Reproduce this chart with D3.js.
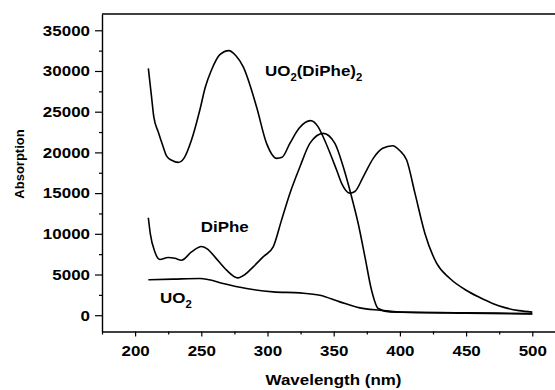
<!DOCTYPE html>
<html>
<head>
<meta charset="utf-8">
<script src="https://cdn.jsdelivr.net/npm/d3@7"></script>
<style>
  body { margin: 0; background: #fff; }
  text { font-family: "Liberation Sans", Arial, sans-serif; font-weight: bold; fill: #000; }
</style>
</head>
<body>
<script>
// wavelength (nm) / absorption
const complexW = [210, 212.4, 214.1, 217.5, 221.2, 223.7, 228, 232.5, 237, 242.6, 248.9, 253, 257.7, 264, 270.8, 276, 281.6, 291.7, 299.3, 306.9, 311, 316.9, 324, 332.5, 338, 342, 352.2, 356, 362, 366, 372.3, 380, 387, 394.5, 400, 405.1, 411.4, 418.9, 427.8, 437.8, 450, 460, 470, 480, 490, 500];
const complexA = [30330, 26840, 24380, 22500, 20690, 19580, 19000, 18770, 19300, 21510, 25200, 28000, 30120, 32000, 32500, 31900, 30530, 25610, 21110, 19270, 19400, 21110, 23000, 23900, 23200, 21920, 17830, 16200, 15000, 15200, 17000, 19300, 20500, 20820, 20200, 19060, 14960, 10050, 6360, 4510, 3070, 2200, 1450, 900, 560, 380];

const diPheW = [210, 211.5, 214.9, 218.7, 224.9, 230, 235, 242.6, 250.2, 255, 260.2, 269.1, 277.5, 283, 289.2, 296.7, 304.3, 310.6, 316.9, 324.5, 332, 342.1, 350.9, 357.2, 363.5, 368.5, 373.6, 378.6, 383.6, 392.5, 450, 500];
const diPheA = [11970, 10000, 7790, 6850, 7090, 7000, 6760, 7780, 8450, 8100, 7170, 5530, 4590, 5000, 5940, 7170, 8400, 11680, 14960, 18230, 21110, 22340, 21110, 18230, 14550, 11270, 7170, 3070, 820, 410, 300, 200];

const uo2W = [210, 228.7, 248.9, 256, 266.5, 284.2, 304.3, 324.5, 339.6, 354.7, 369.8, 384.9, 400, 450, 500];
const uo2A = [4350, 4430, 4510, 4350, 3900, 3280, 2870, 2740, 2460, 1640, 900, 615, 400, 250, 150];

const xTicks = [200, 250, 300, 350, 400, 450, 500];
const xMinor = [175, 225, 275, 325, 375, 425, 475, 525];
const yTicks = [0, 5000, 10000, 15000, 20000, 25000, 30000, 35000];
const yMinor = [2500, 7500, 12500, 17500, 22500, 27500, 32500];

const width = 555, height = 390;
const sx = 1.13; // text in the picture is a little stretched sideways

const x = d3.scaleLinear().domain([175, 525]).range([102, 565.4]);
const y = d3.scaleLinear().domain([-2000, 37000]).range([331.5, 14]);

const svg = d3.select('body').append('svg')
    .attr('width', width)
    .attr('height', height);

// frame: top and right edge (right is outside the picture)
svg.append('path')
    .attr('d', `M${x(175)},${y(37000)}H${x(525)}V${y(-2000)}`)
    .attr('fill', 'none')
    .attr('stroke', '#000')
    .attr('stroke-width', 1.4);

const xAxis = svg.append('g')
    .attr('transform', `translate(0,${y(-2000)})`)
    .call(d3.axisBottom(x).tickValues(xTicks).tickSize(5).tickPadding(9).tickSizeOuter(0).tickFormat(d3.format('d')));
svg.append('g')
    .attr('transform', `translate(0,${y(-2000)})`)
    .call(d3.axisBottom(x).tickValues(xMinor).tickSize(3).tickFormat('').tickSizeOuter(0))
    .select('.domain').remove();

const yAxis = svg.append('g')
    .attr('transform', `translate(${x(175)},0)`)
    .call(d3.axisLeft(y).tickValues(yTicks).tickSize(7).tickPadding(5).tickSizeOuter(0).tickFormat(d3.format('d')));
svg.append('g')
    .attr('transform', `translate(${x(175)},0)`)
    .call(d3.axisLeft(y).tickValues(yMinor).tickSize(3).tickFormat('').tickSizeOuter(0))
    .select('.domain').remove();

svg.selectAll('.domain').attr('stroke-width', 1.4);
svg.selectAll('.tick line').attr('stroke-width', 1.2);

xAxis.selectAll('text')
    .style('font-size', '15px')
    .attr('transform', `scale(${sx},1)`);
yAxis.selectAll('text')
    .style('font-size', '15px')
    .attr('x', -12 / sx)
    .attr('transform', `scale(${sx},1)`);

// curves
const line = d3.line()
    .x(d => x(d[0]))
    .y(d => y(d[1]))
    .curve(d3.curveMonotoneX);

[[complexW, complexA], [diPheW, diPheA], [uo2W, uo2A]].forEach(([w, a]) => {
    svg.append('path')
        .datum(w.map((v, i) => [v, a[i]]))
        .attr('d', line)
        .attr('fill', 'none')
        .attr('stroke', '#000')
        .attr('stroke-width', 1.6);
});

// axis titles
svg.append('text')
    .attr('transform', `translate(333.5,385) scale(${sx},1)`)
    .attr('text-anchor', 'middle')
    .style('font-size', '15px')
    .text('Wavelength (nm)');

svg.append('text')
    .attr('transform', 'translate(23.5,164) rotate(-90)')
    .attr('text-anchor', 'middle')
    .style('font-size', '13px')
    .text('Absorption');

// labels on the curves
function label(px, py, parts) {
    const t = svg.append('text')
        .attr('transform', `translate(${px},${py}) scale(${sx},1)`)
        .style('font-size', '15px');
    parts.forEach(p => {
        t.append('tspan')
            .attr('dy', p.sub ? 5 : (p.after ? -5 : 0))
            .style('font-size', p.sub ? '10px' : null)
            .text(p.t);
    });
}

label(265, 75.5, [{t: 'UO'}, {t: '2', sub: true}, {t: '(DiPhe)', after: true}, {t: '2', sub: true}]);
label(200.7, 232.3, [{t: 'DiPhe'}]);
label(160, 302.7, [{t: 'UO'}, {t: '2', sub: true}]);
</script>
</body>
</html>
